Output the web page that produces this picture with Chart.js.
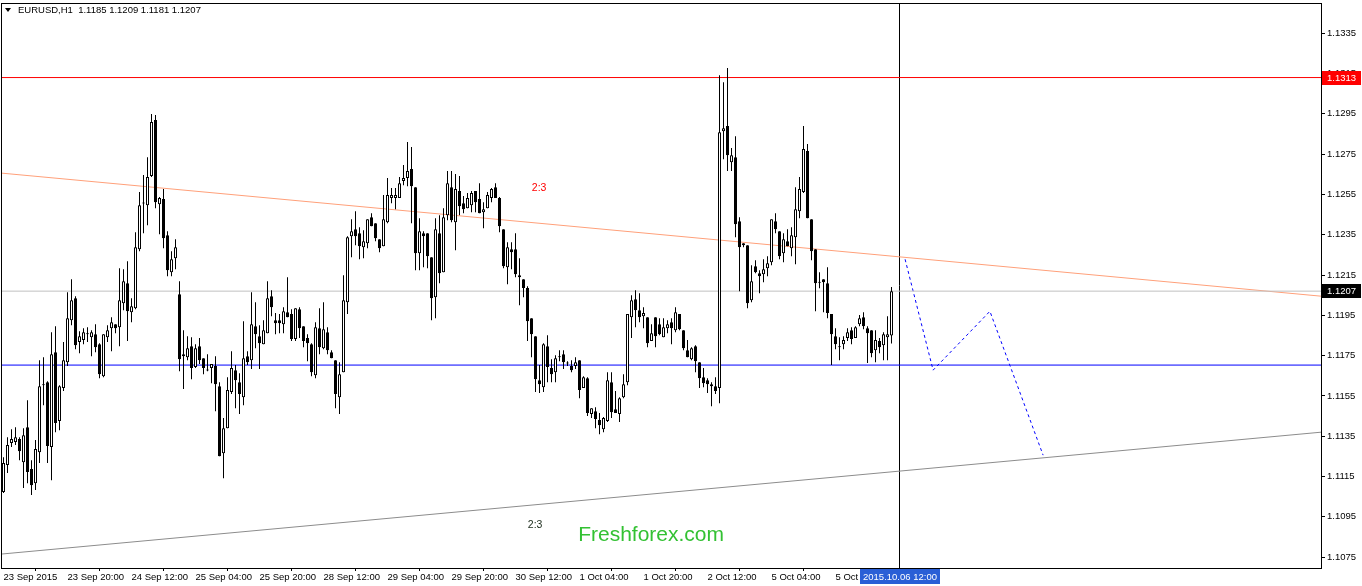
<!DOCTYPE html>
<html>
<head>
<meta charset="utf-8">
<script src="https://cdn.jsdelivr.net/npm/chart.js@4.4.1/dist/chart.umd.min.js"></script>
<style>
html,body{margin:0;padding:0;background:#ffffff;overflow:hidden;}
canvas{display:block;}
</style>
</head>
<body>
<canvas id="c" width="1362" height="586"></canvas>
<script>
// ---- EURUSD H1 candles (bar index 0 = 23 Sep 2015 04:00) ----
const opens = [
1.11073,1.11207,1.11316,1.11321,1.11336,1.11221,1.11395,1.11187,1.11117,1.11271,
1.11603,1.11618,1.11296,1.11767,1.11425,1.11589,1.11717,1.11926,1.12035,1.11817,
1.11827,1.11856,1.11841,1.11856,1.11807,1.11648,1.11841,1.11886,1.11906,1.11891,
1.12010,1.12109,1.11965,1.11985,1.12278,1.12506,1.12496,1.12641,1.12919,1.12501,
1.12527,1.12347,1.12164,1.12233,1.12055,1.11747,1.11742,1.11797,1.11693,1.11797,
1.11737,1.11678,1.11688,1.11698,1.11598,1.11266,1.11390,1.11569,1.11678,1.11618,
1.11544,1.11747,1.11727,1.11896,1.11846,1.11807,1.11861,1.12045,1.11926,1.11926,
1.11906,1.11965,1.11956,1.11832,1.11980,1.11896,1.11837,1.11807,1.11653,1.11886,
1.11787,1.11866,1.11767,1.11727,1.11544,1.11668,1.12015,1.12342,1.12377,1.12357,
1.12288,1.12308,1.12437,1.12407,1.12328,1.12293,1.12412,1.12532,1.12532,1.12532,
1.12616,1.12631,1.12676,1.12586,1.12258,1.12357,1.12357,1.12238,1.12040,1.12357,
1.12164,1.12447,1.12586,1.12412,1.12567,1.12506,1.12481,1.12496,1.12567,1.12527,
1.12461,1.12481,1.12532,1.12586,1.12532,1.12377,1.12189,1.12278,1.12278,1.12149,
1.12129,1.12085,1.11936,1.11846,1.11628,1.11593,1.11797,1.11688,1.11668,1.11742,
1.11757,1.11713,1.11698,1.11698,1.11727,1.11589,1.11638,1.11460,1.11474,1.11430,
1.11385,1.11425,1.11618,1.11484,1.11460,1.11544,1.11618,1.11941,1.12030,1.11975,
1.11946,1.11941,1.11822,1.11941,1.11906,1.11841,1.11886,1.11916,1.11876,1.11956,
1.11876,1.11777,1.11732,1.11797,1.11717,1.11643,1.11628,1.11598,1.11598,1.11589,
1.12864,1.12889,1.12710,1.12735,1.12417,1.12298,1.12298,1.12025,1.12194,1.12159,
1.12154,1.12184,1.12213,1.12417,1.12367,1.12258,1.12318,1.12283,1.12337,1.12466,
1.12562,1.12765,1.12427,1.12278,1.12114,1.12129,1.12109,1.11956,1.11846,1.11792,
1.11807,1.11837,1.11876,1.11837,1.11906,1.11941,1.11886,1.11876,1.11777,1.11822,
1.11802,1.11841,1.11850];
const highs = [
1.11246,1.11345,1.11385,1.11395,1.11345,1.11390,1.11529,1.11231,1.11331,1.11727,
1.11742,1.11623,1.11866,1.11896,1.11603,1.11817,1.12065,1.12129,1.12045,1.11871,
1.11886,1.11891,1.11876,1.11906,1.11812,1.11856,1.11901,1.11941,1.11906,1.12184,
1.12179,1.12218,1.12035,1.12362,1.12562,1.12646,1.12735,1.12949,1.12944,1.12537,
1.12577,1.12367,1.12268,1.12328,1.12119,1.11876,1.11846,1.11841,1.11807,1.11837,
1.11737,1.11757,1.11708,1.11747,1.11618,1.11440,1.11643,1.11772,1.11703,1.11663,
1.11921,1.11772,1.12065,1.12015,1.11901,1.11926,1.12119,1.12075,1.11961,1.11956,
1.11990,1.12139,1.11980,1.11985,1.11990,1.11896,1.11856,1.11812,1.11916,1.11985,
1.12015,1.11891,1.11777,1.11727,1.11717,1.12149,1.12342,1.12427,1.12466,1.12387,
1.12372,1.12427,1.12457,1.12407,1.12328,1.12547,1.12631,1.12582,1.12582,1.12636,
1.12696,1.12810,1.12785,1.12586,1.12432,1.12367,1.12357,1.12238,1.12432,1.12447,
1.12481,1.12666,1.12666,1.12651,1.12641,1.12542,1.12557,1.12567,1.12567,1.12606,
1.12511,1.12562,1.12582,1.12606,1.12537,1.12377,1.12313,1.12313,1.12357,1.12233,
1.12129,1.12094,1.11936,1.11846,1.11703,1.11812,1.11851,1.11732,1.11752,1.11777,
1.11777,1.11722,1.11727,1.11742,1.11727,1.11648,1.11643,1.11489,1.11494,1.11465,
1.11445,1.11668,1.11668,1.11574,1.11544,1.11658,1.11956,1.12050,1.12075,1.12060,
1.11990,1.11941,1.11906,1.11941,1.11936,1.11936,1.11926,1.11936,1.11990,1.11956,
1.11876,1.11827,1.11792,1.11802,1.11717,1.11688,1.11638,1.11618,1.11643,1.13142,
1.13107,1.13177,1.12780,1.12839,1.12437,1.12308,1.12298,1.12199,1.12223,1.12174,
1.12228,1.12243,1.12427,1.12457,1.12367,1.12357,1.12377,1.12387,1.12586,1.12636,
1.12889,1.12800,1.12427,1.12278,1.12164,1.12129,1.12189,1.11956,1.11886,1.11841,
1.11846,1.11886,1.11891,1.11896,1.11951,1.11965,1.11896,1.11876,1.11876,1.11837,
1.11866,1.11946,1.12090];
const lows = [
1.11068,1.11167,1.11296,1.11306,1.11231,1.11093,1.11117,1.11058,1.11083,1.11217,
1.11504,1.11217,1.11132,1.11370,1.11380,1.11574,1.11698,1.11901,1.11782,1.11762,
1.11807,1.11817,1.11747,1.11767,1.11638,1.11643,1.11817,1.11772,1.11861,1.11797,
1.11975,1.11822,1.11916,1.11980,1.12268,1.12357,1.12397,1.12636,1.12481,1.12352,
1.12283,1.12144,1.12144,1.12179,1.11673,1.11584,1.11727,1.11633,1.11688,1.11708,
1.11658,1.11673,1.11613,1.11474,1.11251,1.11142,1.11390,1.11559,1.11489,1.11460,
1.11504,1.11703,1.11683,1.11787,1.11683,1.11807,1.11861,1.11946,1.11856,1.11861,
1.11861,1.11941,1.11822,1.11822,1.11837,1.11792,1.11722,1.11648,1.11638,1.11757,
1.11782,1.11757,1.11737,1.11489,1.11460,1.11668,1.11956,1.12238,1.12298,1.12228,
1.12233,1.12283,1.12392,1.12318,1.12263,1.12293,1.12407,1.12506,1.12476,1.12532,
1.12596,1.12591,1.12407,1.12174,1.12174,1.12189,1.12184,1.11926,1.11936,1.12109,
1.12164,1.12422,1.12412,1.12273,1.12447,1.12457,1.12481,1.12461,1.12461,1.12457,
1.12382,1.12481,1.12511,1.12532,1.12362,1.12184,1.12104,1.12179,1.12139,1.12000,
1.12040,1.11822,1.11742,1.11569,1.11564,1.11569,1.11618,1.11618,1.11618,1.11722,
1.11683,1.11698,1.11668,1.11683,1.11539,1.11589,1.11450,1.11440,1.11390,1.11360,
1.11370,1.11420,1.11440,1.11465,1.11420,1.11539,1.11603,1.11837,1.11891,1.11916,
1.11886,1.11792,1.11822,1.11792,1.11851,1.11841,1.11861,1.11807,1.11866,1.11876,
1.11777,1.11742,1.11727,1.11668,1.11589,1.11593,1.11564,1.11499,1.11559,1.11514,
1.12725,1.12666,1.12666,1.12337,1.12070,1.12288,1.11985,1.12015,1.12159,1.12060,
1.12114,1.12144,1.12199,1.12357,1.12228,1.12213,1.12293,1.12243,1.12204,1.12432,
1.12557,1.12432,1.12223,1.11970,1.12084,1.11965,1.11936,1.11703,1.11782,1.11727,
1.11782,1.11822,1.11807,1.11837,1.11896,1.11881,1.11713,1.11742,1.11717,1.11762,
1.11727,1.11727,1.11810];
const closes = [
1.11217,1.11306,1.11336,1.11345,1.11276,1.11355,1.11172,1.11107,1.11286,1.11598,
1.11608,1.11301,1.11757,1.11415,1.11598,1.11727,1.11936,1.12025,1.11802,1.11846,
1.11866,1.11858,1.11866,1.11792,1.11658,1.11856,1.11876,1.11916,1.11886,1.12025,
1.12119,1.11970,1.11995,1.12288,1.12496,1.12505,1.12636,1.12909,1.12511,1.12532,
1.12333,1.12174,1.12228,1.12288,1.11732,1.11757,1.11787,1.11688,1.11787,1.11727,
1.11688,1.11676,1.11708,1.11608,1.11251,1.11390,1.11579,1.11688,1.11628,1.11559,
1.11737,1.11717,1.11906,1.11856,1.11812,1.11876,1.12035,1.11990,1.11911,1.11911,
1.11970,1.11941,1.11832,1.11985,1.11886,1.11822,1.11812,1.11668,1.11891,1.11792,
1.11881,1.11777,1.11737,1.11559,1.11658,1.12025,1.12337,1.12367,1.12342,1.12293,
1.12318,1.12427,1.12392,1.12333,1.12283,1.12427,1.12547,1.12547,1.12547,1.12606,
1.12631,1.12666,1.12591,1.12258,1.12367,1.12342,1.12243,1.12035,1.12377,1.12159,
1.12437,1.12606,1.12422,1.12577,1.12491,1.12476,1.12532,1.12557,1.12511,1.12457,
1.12476,1.12547,1.12577,1.12532,1.12392,1.12194,1.12288,1.12263,1.12154,1.12139,
1.12085,1.11921,1.11856,1.11633,1.11608,1.11807,1.11693,1.11658,1.11737,1.11747,
1.11717,1.11711,1.11678,1.11717,1.11579,1.11643,1.11465,1.11489,1.11435,1.11405,
1.11440,1.11628,1.11469,1.11465,1.11539,1.11608,1.11956,1.12025,1.11975,1.11941,
1.11961,1.11812,1.11861,1.11846,1.11856,1.11891,1.11906,1.11886,1.11965,1.11881,
1.11787,1.11742,1.11787,1.11722,1.11638,1.11613,1.11608,1.11608,1.11574,1.12859,
1.12879,1.12745,1.12745,1.12402,1.12288,1.12308,1.12010,1.12119,1.12164,1.12144,
1.12179,1.12209,1.12427,1.12377,1.12243,1.12328,1.12293,1.12347,1.12476,1.12577,
1.12775,1.12432,1.12268,1.12109,1.12112,1.12114,1.11961,1.11856,1.11807,1.11797,
1.11827,1.11866,1.11832,1.11891,1.11936,1.11896,1.11861,1.11762,1.11827,1.11792,
1.11856,1.11856,1.12070];

// ---- axis ticks ----
const timeTickIndex = [0,16,32,48,64,80,96,112,128,144,160,176,192,208];
const timeTickLabels = ["23 Sep 2015","23 Sep 20:00","24 Sep 12:00","25 Sep 04:00","25 Sep 20:00",
  "28 Sep 12:00","29 Sep 04:00","29 Sep 20:00","30 Sep 12:00","1 Oct 04:00","1 Oct 20:00",
  "2 Oct 12:00","5 Oct 04:00","5 Oct 20:00"];
const priceTicks = [1.1075,1.1095,1.1115,1.1135,1.1155,1.1175,1.1195,1.1215,1.1235,1.1255,1.1275,1.1295,1.1315,1.1335];

// ---- objects on the chart ----
const resistanceLevel = 1.1313;
const bidLevel = 1.1207;
const supportLevel = 1.11703;
const upperTrend = [1.12656, 1.12045];   // at left / right edge
const lowerTrend = [1.10765, 1.11370];   // at left / right edge
const cursorBar = 224;
const cursorLabel = "2015.10.06 12:00";
const forecastX = [225.4, 232.4, 246.6, 259.9];
const forecastY = [1.12228, 1.11678, 1.11970, 1.11256];
const headerText = "EURUSD,H1  1.1185 1.1209 1.1181 1.1207";
const notes = [
  {text:"2:3", x:133.9, y:1.12582, color:"#ff0000", size:10.5},
  {text:"2:3", x:132.9, y:1.10909, color:"#1a2a1a", size:10.5},
  {text:"Freshforex.com", x:161.9, y:1.10859, color:"#33c133", size:21}
];

const X_MIN = -0.625, X_MAX = 329.375, Y_MIN = 1.10696, Y_MAX = 1.13500;
const FONT = "'Liberation Sans', Arial, sans-serif";

const idx = opens.map((_, i) => i);
const wickData = idx.map(i => ({x: i, y: [lows[i], highs[i]]}));
const bodyData = idx.map(i => ({x: i, y: [opens[i], closes[i]]}));
const hline = v => [{x: X_MIN, y: v}, {x: X_MAX, y: v}];

const lineDs = (data, color, extra) => Object.assign({
  type: 'line', data, borderColor: color, borderWidth: 1, pointRadius: 0,
  fill: false, tension: 0, order: 5
}, extra || {});

const overlay = {
  id: 'overlay',
  afterDatasetsDraw(chart) {
    const {ctx, scales: {x, y}} = chart;
    ctx.save();
    ctx.textAlign = 'center';
    ctx.textBaseline = 'middle';
    notes.forEach(n => {
      ctx.font = n.size + "px " + FONT;
      ctx.fillStyle = n.color;
      ctx.fillText(n.text, x.getPixelForValue(n.x), y.getPixelForValue(n.y));
    });
    ctx.restore();
  },
  afterDraw(chart) {
    const {ctx, chartArea: a, scales: {x, y}} = chart;
    ctx.save();
    // frame
    ctx.strokeStyle = '#000';
    ctx.lineWidth = 1;
    ctx.strokeRect(Math.floor(a.left) + 0.5, Math.floor(a.top) + 0.5,
                   Math.round(a.right - a.left), Math.round(a.bottom - a.top));
    // header
    ctx.fillStyle = '#000';
    ctx.beginPath();
    ctx.moveTo(5, 8); ctx.lineTo(11, 8); ctx.lineTo(8, 12); ctx.closePath(); ctx.fill();
    ctx.font = "9.5px " + FONT;
    ctx.textBaseline = 'middle';
    ctx.textAlign = 'left';
    ctx.fillText(headerText, 18, 10);
    // price boxes on the axis
    const box = (v, bg) => {
      const py = Math.round(y.getPixelForValue(v));
      ctx.fillStyle = bg;
      ctx.fillRect(a.right + 1, py - 7, 39, 14);
      ctx.fillStyle = '#fff';
      ctx.fillText(v.toFixed(4), a.right + 6, py);
    };
    box(resistanceLevel, '#ff0000');
    box(bidLevel, '#000000');
    // time box at cursor
    const cx = Math.round(x.getPixelForValue(cursorBar));
    ctx.fillStyle = '#2a5fd6';
    ctx.fillRect(cx - 40, a.bottom + 1, 80, 15);
    ctx.fillStyle = '#fff';
    ctx.textAlign = 'center';
    ctx.fillText(cursorLabel, cx, a.bottom + 9);
    ctx.restore();
  }
};

new Chart(document.getElementById('c'), {
  type: 'bar',
  data: {
    datasets: [
      {type: 'bar', data: bodyData, order: 0, grouped: false,
       barThickness: 3, maxBarThickness: 3, minBarLength: 1,
       backgroundColor: c => (closes[c.dataIndex] >= opens[c.dataIndex] ? '#ffffff' : '#000000'),
       borderColor: '#000000', borderWidth: 1, borderSkipped: false, borderRadius: 0, inflateAmount: 0},
      {type: 'bar', data: wickData, order: 1, grouped: false,
       barThickness: 1, maxBarThickness: 1, backgroundColor: '#000000', borderWidth: 0, inflateAmount: 0},
      lineDs(hline(resistanceLevel), '#ff0000'),
      lineDs(hline(bidLevel), '#c0c0c0'),
      lineDs(hline(supportLevel), '#0000ff'),
      lineDs([{x: X_MIN, y: upperTrend[0]}, {x: X_MAX, y: upperTrend[1]}], '#ffa07a'),
      lineDs([{x: X_MIN, y: lowerTrend[0]}, {x: X_MAX, y: lowerTrend[1]}], '#8c8c8c'),
      lineDs([{x: cursorBar, y: Y_MIN}, {x: cursorBar, y: Y_MAX}], '#000000'),
      lineDs(forecastX.map((v, i) => ({x: v, y: forecastY[i]})), '#0000ff', {borderDash: [3, 3]})
    ]
  },
  options: {
    responsive: false,
    animation: false,
    events: [],
    layout: {padding: {left: 1, top: 3, right: 0, bottom: 0}},
    plugins: {legend: {display: false}, tooltip: {enabled: false}},
    scales: {
      x: {
        type: 'linear', min: X_MIN, max: X_MAX, offset: false,
        grid: {drawOnChartArea: false, drawTicks: true, tickLength: 3, color: '#000'},
        border: {display: true, color: '#000'},
        ticks: {
          autoSkip: false, maxRotation: 0, align: 'start', padding: 1, color: '#000',
          font: {family: FONT, size: 9.5},
          callback: v => { const k = timeTickIndex.indexOf(v); return k >= 0 ? timeTickLabels[k] : ''; }
        },
        afterBuildTicks: s => { s.ticks = timeTickIndex.map(v => ({value: v})); },
        afterFit: s => { s.height = 18; s.paddingLeft = 0; s.paddingRight = 0; }
      },
      y: {
        type: 'linear', position: 'right', min: Y_MIN, max: Y_MAX,
        grid: {drawOnChartArea: false, drawTicks: true, tickLength: 4, color: '#000'},
        border: {display: true, color: '#000'},
        ticks: {
          padding: 2, color: '#000', font: {family: FONT, size: 9.5},
          callback: v => Number(v).toFixed(4)
        },
        afterBuildTicks: s => { s.ticks = priceTicks.map(v => ({value: v})); },
        afterFit: s => { s.width = 41; s.paddingTop = 0; s.paddingBottom = 0; }
      }
    }
  },
  plugins: [overlay]
});
</script>
</body>
</html>
